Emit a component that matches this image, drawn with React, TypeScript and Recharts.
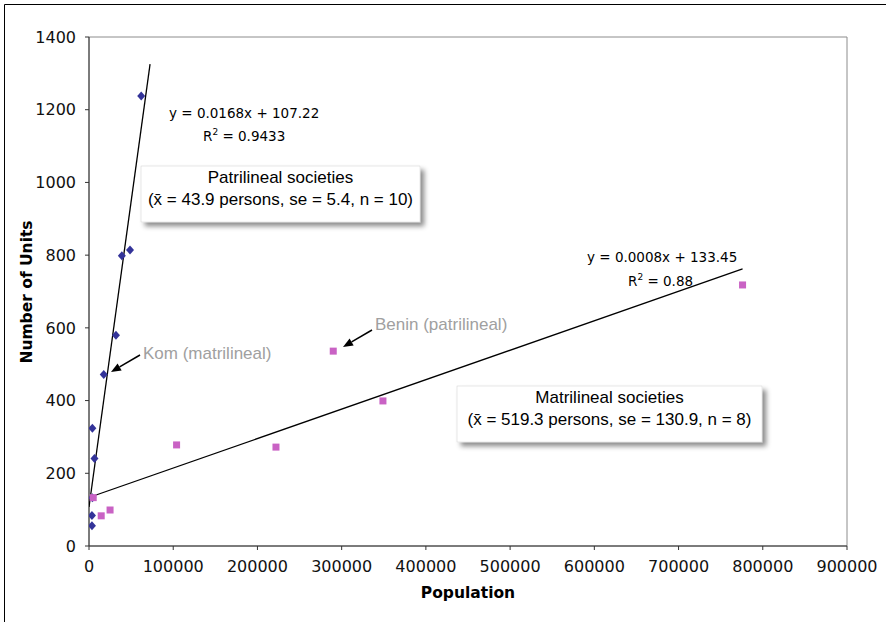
import React from 'react';
import { ScatterChart, Scatter, XAxis, YAxis, ReferenceArea } from 'recharts';

// axes
const X_TICKS = [0, 100000, 200000, 300000, 400000, 500000, 600000, 700000, 800000, 900000];
const Y_TICKS = [0, 200, 400, 600, 800, 1000, 1200, 1400];

// patrilineal societies (blue diamonds)
const PATRI_POP = [4000, 3500, 3500, 4000, 6500, 17500, 32000, 39000, 48700, 62000];
const PATRI_UNITS = [133, 56, 84, 324, 241, 472, 580, 798, 814, 1238];

// matrilineal societies (pink squares)
const MATRI_POP = [5000, 14500, 25000, 104000, 222000, 290000, 349000, 776000];
const MATRI_UNITS = [133, 83, 99, 278, 272, 536, 399, 718];

// linear trend lines: slope, intercept, x range
const PATRI_FIT = [0.0168, 107.22, 0, 72500];
const MATRI_FIT = [0.00081, 133.45, 5000, 776000];

const W = 886;
const H = 622;
const BLUE = '#333399';
const PINK = '#c962c4';
const TICK_FONT = 'DejaVu Sans, Verdana, sans-serif';
const BOX_FONT = 'Liberation Sans, Arial, sans-serif';

const patriData = PATRI_POP.map((x, i) => ({ x, y: PATRI_UNITS[i] }));
const matriData = MATRI_POP.map((x, i) => ({ x, y: MATRI_UNITS[i] }));

const fitLine = ([m, b, from, to]: number[]) => [
  { x: from, y: m * from + b },
  { x: to, y: m * to + b },
];

const Diamond = (props: any) => {
  const { cx, cy } = props;
  return (
    <polygon
      points={`${cx},${cy - 4.5} ${cx + 4},${cy} ${cx},${cy + 4.5} ${cx - 4},${cy}`}
      fill={BLUE}
    />
  );
};

const Square = (props: any) => {
  const { cx, cy } = props;
  return <rect x={cx - 3.5} y={cy - 3.5} width={7} height={7} fill={PINK} />;
};

const NoDot = () => <g />;

const Arrow = ({ x1, y1, x2, y2 }: { x1: number; y1: number; x2: number; y2: number }) => {
  const a = Math.atan2(y2 - y1, x2 - x1);
  const len = 10;
  const wid = 4;
  const bx = x2 - len * Math.cos(a);
  const by = y2 - len * Math.sin(a);
  const px = -Math.sin(a) * wid;
  const py = Math.cos(a) * wid;
  return (
    <g>
      <line x1={x1} y1={y1} x2={bx} y2={by} stroke="#000" strokeWidth={1.5} />
      <polygon points={`${x2},${y2} ${bx + px},${by + py} ${bx - px},${by - py}`} fill="#000" />
    </g>
  );
};

const Box = ({ x, y, w, h, lines }: { x: number; y: number; w: number; h: number; lines: string[] }) => (
  <g>
    <rect x={x} y={y} width={w} height={h} fill="#fff" stroke="#d0d0d0" strokeWidth={0.5} filter="url(#shadow)" />
    {lines.map((t, i) => (
      <text
        key={i}
        x={x + w / 2}
        y={y + 17 + i * 22}
        textAnchor="middle"
        fontFamily={BOX_FONT}
        fontSize={17}
        fill="#000"
      >
        {t}
      </text>
    ))}
  </g>
);

export default function App() {
  return (
    <div style={{ position: 'absolute', left: 0, top: 0, width: W, height: H, background: '#fff' }}>
      <ScatterChart width={W} height={H} margin={{ top: 37, right: 39, bottom: 0, left: 0 }}>
        <ReferenceArea x1={0} x2={900000} y1={0} y2={1400} fill="none" stroke="#8c8c8c" strokeWidth={1} />
        <XAxis
          type="number"
          dataKey="x"
          domain={[0, 900000]}
          ticks={X_TICKS}
          height={76}
          tickSize={4}
          tickMargin={11}
          stroke="#333"
          tick={{ fill: '#111', fontSize: 16, fontFamily: TICK_FONT }}
          allowDataOverflow
        />
        <YAxis
          type="number"
          dataKey="y"
          domain={[0, 1400]}
          ticks={Y_TICKS}
          width={89}
          tickSize={4}
          tickMargin={9}
          stroke="#333"
          tick={{ fill: '#111', fontSize: 16, fontFamily: TICK_FONT }}
          allowDataOverflow
        />
        <Scatter data={fitLine(PATRI_FIT)} line={{ stroke: '#000', strokeWidth: 1.3 }} shape={NoDot} isAnimationActive={false} />
        <Scatter data={fitLine(MATRI_FIT)} line={{ stroke: '#000', strokeWidth: 1.3 }} shape={NoDot} isAnimationActive={false} />
        <Scatter data={patriData} shape={Diamond} isAnimationActive={false} />
        <Scatter data={matriData} shape={Square} isAnimationActive={false} />
      </ScatterChart>

      <svg
        width={W}
        height={H}
        style={{ position: 'absolute', left: 0, top: 0, pointerEvents: 'none' }}
      >
        <defs>
          <filter id="shadow" x="-10%" y="-20%" width="130%" height="160%">
            <feDropShadow dx={4} dy={4} stdDeviation={2.5} floodColor="#000" floodOpacity={0.45} />
          </filter>
        </defs>

        {/* outer frame */}
        <line x1={4.5} y1={4.5} x2={W} y2={4.5} stroke="#000" strokeWidth={1} />
        <line x1={4.5} y1={4.5} x2={4.5} y2={H} stroke="#000" strokeWidth={1} />

        {/* axis titles */}
        <text x={468} y={598} textAnchor="middle" fontFamily={TICK_FONT} fontWeight="bold" fontSize={15.5} fill="#000">
          Population
        </text>
        <text
          x={32}
          y={292}
          textAnchor="middle"
          transform="rotate(-90 32 292)"
          fontFamily={TICK_FONT}
          fontWeight="bold"
          fontSize={15.5}
          fill="#000"
        >
          Number of Units
        </text>

        {/* regression equations */}
        <g fontFamily={TICK_FONT} fontSize={13.5} fill="#000">
          <text x={169} y={118}>y = 0.0168x + 107.22</text>
          <text x={203} y={141}>
            R<tspan fontSize={9} dy={-6}>2</tspan>
            <tspan dy={6}> = 0.9433</tspan>
          </text>
          <text x={587} y={262}>y = 0.0008x + 133.45</text>
          <text x={628} y={286}>
            R<tspan fontSize={9} dy={-6}>2</tspan>
            <tspan dy={6}> = 0.88</tspan>
          </text>
        </g>

        {/* boxes */}
        <Box x={141} y={166} w={279} h={56} lines={['Patrilineal societies', '(x\u0304 = 43.9 persons, se = 5.4, n = 10)']} />
        <Box x={457} y={386} w={305} h={56} lines={['Matrilineal societies', '(x\u0304 = 519.3 persons, se = 130.9, n = 8)']} />

        {/* callouts */}
        <text x={143} y={359} fontFamily={BOX_FONT} fontSize={17} fill="#a0a0a0">
          Kom (matrilineal)
        </text>
        <Arrow x1={140} y1={355} x2={111} y2={372} />
        <text x={375} y={330} fontFamily={BOX_FONT} fontSize={17} fill="#a0a0a0">
          Benin (patrilineal)
        </text>
        <Arrow x1={372} y1={330} x2={343} y2={347} />
      </svg>
    </div>
  );
}
